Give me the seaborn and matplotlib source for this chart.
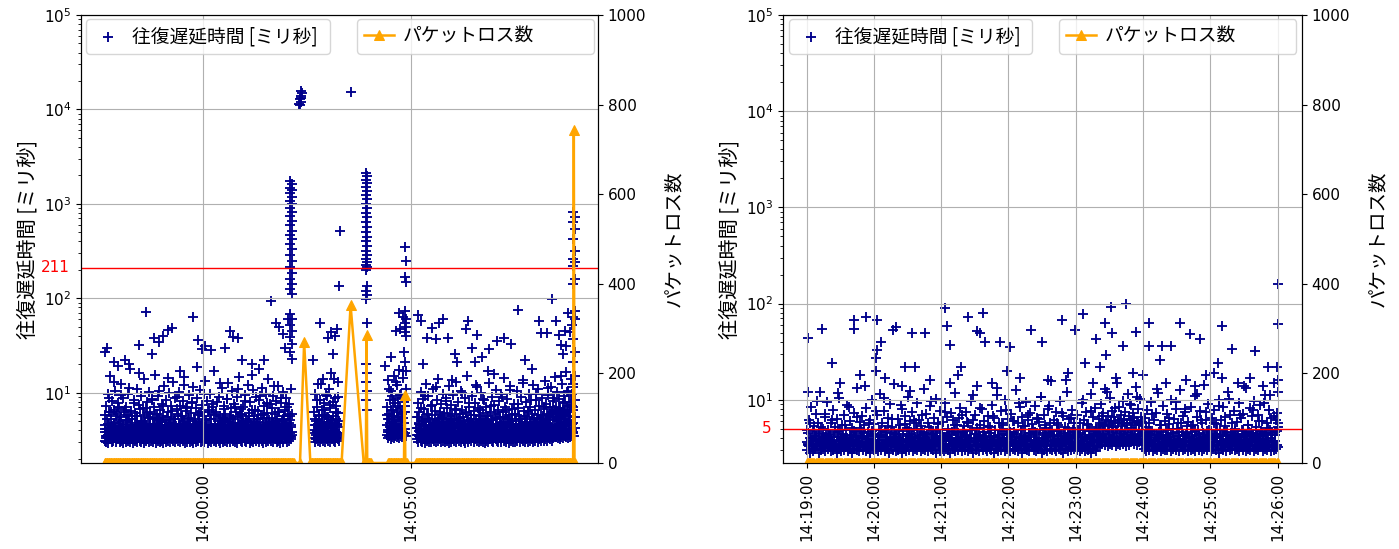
import numpy as np
import pandas as pd
import matplotlib
matplotlib.use("Agg")
import matplotlib.pyplot as plt
import matplotlib.dates as mdates
import matplotlib.transforms as mtransforms
import seaborn as sns

plt.rcParams['font.family'] = ['DejaVu Sans', 'Noto Sans CJK JP']
JP = ['Noto Sans CJK JP', 'DejaVu Sans']

RTT_LABEL = '往復遅延時間 [ミリ秒]'
LOSS_LABEL = 'パケットロス数'

# ---------------- left panel data (seconds from 13:57:38) ----------------
left_start = '2024-01-01 13:57:38'
left_band_starts = [0, 302, 407, 450]
# round-trip time, tenths of ms, first sample of each second
left_band_a = [
    38,45,33,52,41,36,88,47,34,39,62,43,35,131,48,37,56,40,33,71,
    44,36,51,39,95,42,34,47,38,66,35,43,58,37,49,34,112,41,36,53,
    46,35,40,78,33,45,39,57,36,43,162,38,50,34,41,69,37,44,35,48,
    39,61,34,42,37,54,45,36,84,40,33,47,38,59,42,35,51,36,104,43,
    37,49,34,44,73,39,36,46,41,35,55,38,142,43,36,48,34,64,40,37,
    52,35,45,38,41,91,36,47,34,43,57,39,35,49,120,37,42,36,68,44,
    34,40,53,36,46,39,79,35,42,38,50,33,45,186,37,41,60,36,48,39,
    43,35,56,38,97,41,34,46,37,63,40,35,52,39,44,36,75,42,38,47,
    36,58,41,34,45,38,128,40,36,49,35,43,67,37,51,39,34,86,42,46,
    38,44,35,54,40,37,48,34,71,43,36,41,109,38,47,35,59,39,45,36,
    50,37,42,82,35,46,39,44,36,57,41,34,48,155,38,43,36,65,40,47,
    35,52,39,44,37,93,41,35,46,38,60,42,36,49,34,77,43,39,45,37,
    41,54,36,47,117,39,43,35,50,38,62,44,37,46,34,88,40,36,53,42,
    39,45,36,70,41,37,48,35,56,43,38]
left_band_b = [40,52,37,45,84,39,47,36,58,43,125,38,49,35,66,41,44,37,95,46,
               39,55,36,48,74,42,38,51,35,140,44,40,62,37,47,89,43]
left_band_c = [45,58,38,52,110,43,66,40,49,83,37,56,44,131,47,39,72,51,42,95,
               46,60,38,54,170,48,41,63]
left_band_d = [
    42,36,55,39,47,34,68,41,37,50,35,44,92,38,46,36,58,40,34,49,
    37,43,74,39,35,48,41,36,115,45,38,52,34,42,63,37,47,39,56,36,
    44,35,49,81,40,37,46,34,59,42,38,135,45,36,51,39,43,67,35,48,
    38,54,41,36,45,99,37,43,35,50,39,61,42,36,47,34,78,44,38,52,
    36,46,39,58,43,35,122,40,48,37,44,65,38,53,36,41,85,39,45,35,
    49,42,37,57,34,46,40,72,38,44,36,51,158,41,35,47,39,62,43,37,
    55,38,45,36,90,42,35,48,39,66,37,44,53,40,36,107,46,38,50,35,
    43,39,60,36,47,41,76,37,45,34,52,40,38,126,44,36,56,42,39,48,
    35,64,41,37,46,83,38,43,36,54,40,35,49,97,42,37,58,44,39,47,
    38,52,36,45,70,40,34,48,42,37,113,45,39,55,36,61,43,38,88,46,
    40,36,53,44,38,68,47,41,150,49,43,59,46,40,79,52,45,102,48,57,
    44,66,50,93,47,72,55]
# second sample of each second (tenths of ms)
left_band_a2 = [
    58,41,72,35,96,47,63,39,150,52,44,81,37,66,48,105,42,59,36,77,
    49,68,40,123,55,38,87,46,62,34,71,51,43,98,39,57,180,45,64,41,
    53,37,84,48,61,42,110,56,39,74,45,67,36,92,50,43,138,58,40,69,
    46,79,38,55,101,44,63,35,86,52,41,70,47,155,39,60,44,93,54,37,
    65,42,76,49,57,38,118,51,45,83,36,62,48,99,41,55,72,39,130,47,
    40,88,53,44,67,37,59,102,46,73,42,56,38,81,50,145,43,64,39,71,
    54,36,94,47,61,41,78,45,115,52,39,68,44,87,37,58,49,107,42,63,
    48,74,39,57,45,134,51,40,82,46,65,38,96,53,43,70,36,59,168,44,
    62,41,79,50,38,91,47,56,42,112,54,39,73,45,60,37,85,49,127,43,
    57,45,69,38,103,52,41,76,47,63,36,89,55,44,148,40,67,48,58,42,
    71,39,95,46,53,43,120,50,61,37,80,44,66,41,106,49,57,38,90,52,
    45,64,40,84,48,58,36,113,54,43,72,39,97,46,61,42,139,51,44,75,
    41,68,49,93,38,60,45,82,53,40,119,47,63,37,77,50,44,101,56,43,
    66,40,88,48,59,42,76,51,45,110,60]
left_band_b2 = [62,45,98,50,71,43,125,56,47,84,40,66,52,140,46,77,58,42,93,55,
                48,110,44,69,51,160,47,79,57,43,88,53,72,45,131,61,50]
left_band_c2 = [70,52,135,60,83,48,105,57,92,66,150,54,78,45,120,63,88,55,175,68,
                50,96,59,142,62,80,73,110]
left_band_d2 = [
    55,42,78,48,63,39,101,52,45,86,40,67,50,125,44,59,37,92,53,46,
    72,41,58,47,110,38,64,51,43,83,49,140,45,60,39,76,54,42,97,48,
    61,44,88,40,69,53,46,118,39,74,50,57,42,95,47,65,38,131,52,45,
    79,43,59,48,103,41,66,55,37,87,46,62,40,152,51,44,71,49,58,39,
    93,47,64,42,77,53,45,114,40,68,50,56,38,99,46,61,43,84,52,41,
    70,48,57,39,128,45,63,51,42,90,47,74,40,59,54,107,44,66,38,81,
    53,46,96,41,62,49,143,43,71,55,39,85,48,58,45,119,40,67,52,44,
    76,42,60,50,104,38,69,47,57,43,91,53,46,136,41,64,49,80,45,55,
    62,39,98,48,71,44,59,52,121,46,66,41,84,54,47,109,43,73,50,58,
    45,88,56,67,49,132,53,75,60,47,95,58,70,51,116,63,55,82,66,148,
    59,71,50,102,62,54,86,68,57,124,61,77,52,93,65,58,167,72,63,105,
    80,66,140,74,98,70,125]
# third sample of each second (tenths of ms)
left_band_a3 = [
    31,35,30,38,33,29,36,32,40,34,30,37,31,35,33,42,30,36,32,39,
    34,30,37,31,35,33,29,38,32,36,30,41,33,31,35,37,30,34,32,36,
    29,35,32,38,31,34,30,36,33,43,31,35,30,37,32,34,29,36,33,31,
    37,32,35,30,39,33,31,36,34,30,38,32,35,29,37,33,31,40,34,30,
    35,31,36,33,29,38,32,34,30,37,33,31,44,35,30,36,32,34,31,38,
    33,30,37,32,35,31,39,34,30,36,32,38,31,35,33,29,37,34,30,36,
    32,38,30,35,33,31,36,29,40,34,32,37,30,35,31,38,33,36,30,34,
    36,31,34,30,38,33,35,32,29,37,31,36,34,30,42,33,35,31,37,32,
    30,35,33,38,31,36,29,34,32,39,30,35,33,31,37,34,30,36,32,35,
    34,30,37,32,35,31,38,33,30,36,34,29,37,32,41,33,31,35,30,38,
    33,36,31,34,30,39,32,35,33,29,37,31,36,34,30,38,32,35,31,37,
    35,32,30,37,33,36,31,34,29,38,32,35,30,36,33,31,40,34,32,36,
    31,37,33,30,35,32,38,34,30,36,31,35,33,29,37,32,34,30,39,33,
    36,32,35,30,38,33,31,37,34,32,36]
left_band_b3 = [33,30,36,32,38,31,35,34,30,37,32,35,31,39,33,30,36,34,32,38,
                31,35,33,30,37,32,36,34,31,35,30,38,33,36,32,34,31]
left_band_c3 = [36,33,40,35,38,32,37,34,41,36,33,39,35,38,34,42,36,33,39,37,
                35,40,34,38,36,41,37,35]
left_band_d3 = [
    32,36,30,35,33,38,31,34,30,37,32,35,29,36,33,31,38,34,30,35,
    33,30,36,32,39,31,35,33,30,37,34,31,36,32,35,30,38,33,31,36,
    30,35,32,37,31,34,29,36,33,30,38,32,35,31,37,33,30,34,32,39,
    35,31,33,36,30,38,32,35,31,34,29,37,33,30,36,32,40,34,31,35,
    33,37,30,34,32,36,31,38,33,30,35,32,37,31,34,30,36,33,29,38,
    31,35,33,30,37,32,36,34,31,39,30,35,33,37,32,31,36,30,34,38,
    36,32,30,35,33,38,31,34,30,37,33,35,32,29,36,34,31,38,33,30,
    34,30,37,32,35,31,36,33,38,30,34,32,37,31,35,33,30,36,32,39,
    30,36,33,31,38,34,32,35,30,37,33,31,36,34,30,38,32,35,33,31,
    37,33,35,31,36,32,39,34,31,37,33,35,32,38,34,31,36,33,40,35,
    34,38,36,33,40,35,32,37,34,39,36,33,38,35,41,34,37,36,33,39,
    36,34,38,35,40,37,35]
# isolated round-trip times (second, ms)
left_out_t = [0,3,13,20,30,35,50,60,68,71,79,85,91,98,109,127,135,140,145,153,
              174,181,186,193,199,213,223,230,240,248,252,258,260,265,
              267,270,267,270,267,270,267,270,267,270,267,270,267,270,267,270,
              267,270,267,270,267,270,267,270,267,270,267,270,267,270,267,270,
              267,270,
              281,282,283,283,284,285,282,284,
              301,311,322,327,332,335,330,338,340,355,
              377,379,377,379,377,379,377,379,377,379,377,379,377,379,377,379,
              377,379,377,379,377,379,377,379,377,379,377,379,377,379,377,379,
              377,379,377,379,
              404,413,420,425,426,430,432,
              433,435,433,435,433,435,433,435,433,435,433,435,
              452,456,460,465,473,478,482,489,495,505,509,522,524,530,534,538,
              545,553,555,566,577,586,597,606,616,627,630,639,645,652,655,658,
              661,664,666,669,672,675,
              676,678,676,678,676,678,676,678,676,678,676,678,676,678,676,678,
              676,678,676,678,676,678,676,678,676]
left_out_v = [27,30,21,19,22,20,32,72,26,38,34,40,46,48,17,63,36,29,31,28,
              30,45,39,38,22,20,18,22,94,55,50,42,30,60,
              1750,1620,1480,1390,1290,1180,1080,990,900,820,740,660,590,520,470,420,
              380,330,290,250,215,185,160,140,125,112,68,60,52,45,39,33,
              27,23,
              11500,12800,14000,12000,15500,14800,11200,13200,
              22,55,38,44,40,47,26,135,520,15200,
              2100,1950,1800,1650,1500,1380,1250,1120,1000,900,800,720,640,570,500,450,
              400,360,320,290,260,240,225,212,200,135,120,108,98,55,20,16,
              13,10.5,8.3,6.5,
              19,24,45,70,47,64,27,
              350,250,170,150,74,60,55,50,44,40,21,17,
              66,57,20,38,49,37,55,61,38,26,21,47,57,30,21,41,
              24,17,29,35,38,33,76,22,18,57,43,43,98,57,41,32,
              26,45,31,70,44,52,
              820,730,640,540,425,316,260,240,220,160,140,73,64,60,37,27,
              21,15,11.6,8.4,6.5,5.5,4.8,4.2,3.8]
# packet loss count (seconds where it is 0, and the spikes)
left_loss_zero_spans = [(0, 273), (282, 282), (297, 342), (374, 384),
                        (409, 436), (450, 676), (678, 678)]
left_loss_spike_t = [288, 355, 378, 433, 677]
left_loss_spike_v = [270, 352, 286, 152, 743]
left_threshold = 211

# ---------------- right panel data (seconds from 14:19:00) ----------------
right_start = '2024-01-01 14:19:00'
right_band_starts = [0]
right_band = [
    36,45,33,58,40,35,47,31,42,96,37,44,34,52,39,33,71,41,36,48,
    34,43,38,62,35,46,32,41,118,37,49,34,44,39,55,33,40,36,84,42,
    38,31,47,35,43,66,37,34,51,40,32,45,139,36,42,39,58,34,47,35,
    44,37,76,33,41,36,49,32,43,104,38,46,35,53,40,34,63,37,45,33,
    41,35,48,38,88,34,44,31,56,39,36,47,124,35,42,37,61,33,50,40,
    36,43,34,69,39,45,32,41,37,52,35,97,44,38,33,47,40,57,36,42,
    33,48,38,74,35,43,31,40,150,37,46,34,54,39,36,45,65,33,41,38,
    47,35,42,59,37,33,49,40,112,36,44,34,51,38,43,82,35,39,46,32,
    40,37,53,34,45,38,67,36,42,33,131,41,48,35,57,39,44,36,79,43,
    35,46,38,41,33,60,37,44,34,92,40,48,36,53,39,42,31,70,45,37,
    43,34,50,38,46,35,63,40,33,107,37,45,36,55,41,38,86,44,34,49,
    37,42,35,58,39,47,33,44,73,36,40,162,38,51,35,43,65,37,46,34,
    41,36,49,34,45,38,99,35,43,39,56,33,47,40,76,36,44,37,52,38,
    45,50,42,68,47,41,55,44,120,49,43,60,46,52,40,83,48,45,58,42,
    47,53,44,62,49,41,57,46,90,51,43,66,48,44,54,108,47,42,59,45,
    39,44,36,52,41,35,47,38,71,34,43,37,128,40,46,33,55,39,42,36,
    48,35,41,64,38,44,33,50,37,95,42,36,46,39,58,34,43,81,37,45,
    34,40,37,53,42,35,47,33,116,39,44,36,61,38,41,35,74,43,36,49,
    38,45,33,57,40,36,48,34,87,42,37,44,35,66,39,46,33,102,41,37,
    43,36,50,38,44,34,69,40,35,47,140,37,42,33,54,39,45,36,78,41,
    36,48,39,60,42,35,46,38,93,44,37,51,34,113,40,45,36,68,43,47,
    52]
right_band2 = [
    48,35,62,40,84,37,53,42,71,33,58,45,120,39,50,36,66,43,95,38,
    44,57,36,78,41,52,34,63,47,105,39,55,42,69,37,48,88,35,60,43,
    51,38,73,45,40,132,36,59,47,67,41,54,33,82,46,39,61,44,99,37,
    56,42,70,38,49,115,43,58,35,76,48,41,64,37,90,45,52,39,145,44,
    40,63,47,55,36,81,42,68,38,51,108,44,60,35,74,49,41,57,93,39,
    62,37,53,46,128,40,71,43,58,36,86,48,45,65,39,102,42,56,34,77,
    45,59,41,92,38,66,50,44,72,35,61,47,118,40,54,43,83,37,69,46,
    53,40,75,43,57,36,97,48,62,39,70,44,138,41,55,38,80,46,60,42,
    37,68,45,52,41,89,38,64,49,111,43,58,36,76,47,54,40,99,44,63,
    50,43,71,39,60,46,125,41,57,37,84,48,66,42,53,94,38,62,45,73,
    41,56,38,87,44,64,36,59,48,106,40,70,43,51,37,80,46,58,155,42,
    61,39,74,47,55,42,98,38,67,45,52,41,121,44,63,36,78,49,57,40,
    46,69,43,58,37,92,48,61,41,75,39,54,47,114,42,66,38,83,50,44,
    63,55,90,58,72,53,130,61,68,56,104,59,77,52,66,60,148,57,85,62,
    70,58,96,63,75,55,116,67,61,88,57,72,64,135,60,80,56,101,66,59,
    48,64,42,79,45,57,40,95,47,62,38,73,44,118,41,55,46,86,39,60,
    43,71,48,56,40,99,45,63,37,81,50,58,42,127,46,67,39,74,44,53,
    59,41,85,46,54,38,109,43,66,48,77,40,57,45,142,39,62,47,91,42,
    47,65,39,78,44,56,41,100,49,61,36,84,46,53,43,119,38,70,45,58,
    40,76,47,59,42,93,38,64,48,71,44,133,41,55,46,82,39,67,43,97,
    52,44,69,40,88,47,60,42,112,45,57,39,79,48,65,43,150,46,62,73,
    58]
right_band3 = [
    30,34,28,37,32,29,35,31,39,33,28,36,30,34,32,41,29,35,31,38,
    33,29,36,30,34,32,28,37,31,35,29,40,32,30,34,36,29,33,31,35,
    28,34,31,37,30,33,29,35,32,42,30,34,29,36,31,33,28,35,32,30,
    36,31,34,29,38,32,30,35,33,29,37,31,34,28,36,32,30,39,33,29,
    34,30,35,32,28,37,31,33,29,36,32,30,41,34,29,35,31,33,30,37,
    32,29,36,31,34,30,38,33,29,35,31,37,30,34,32,28,36,33,29,35,
    31,37,29,34,32,30,35,28,39,33,31,36,29,34,30,37,32,35,29,33,
    35,30,33,29,37,32,34,31,28,36,30,35,33,29,40,32,34,30,36,31,
    29,34,32,37,30,35,28,33,31,38,29,34,32,30,36,33,29,35,31,34,
    33,29,36,31,34,30,37,32,29,35,33,28,36,31,39,32,30,34,29,37,
    32,35,30,33,29,38,31,34,32,28,36,30,35,33,29,37,31,34,30,36,
    34,31,29,36,32,35,30,33,28,37,31,34,29,35,32,30,39,33,31,35,
    30,36,32,29,34,31,37,33,29,35,30,34,32,28,36,31,33,29,38,32,
    36,33,38,35,40,34,37,36,33,39,35,38,34,41,36,33,38,35,37,34,
    38,35,40,36,33,39,37,34,41,36,38,35,40,37,34,39,36,38,35,42,
    31,35,29,34,32,30,36,33,29,35,31,37,30,34,32,29,36,31,33,30,
    34,30,36,32,29,35,31,38,33,30,34,29,36,32,35,30,33,31,37,29,
    32,36,30,34,31,37,29,33,35,30,32,36,29,34,31,38,30,33,32,35,
    29,33,31,36,30,34,32,28,37,31,35,30,33,29,36,32,34,30,35,31,
    33,30,35,31,37,29,34,32,30,36,33,29,35,31,34,30,38,32,29,36,
    31,34,30,37,32,35,29,33,31,36,30,34,32,29,35,33,30,37,31,34,
    32]
right_out_t = [1,1,14,23,42,42,53,63,63,62,66,62,77,80,94,106,88,97,123,125,
               128,138,144,157,155,152,159,172,181,179,200,210,228,239,246,248,
               258,266,271,285,272,262,267,282,294,291,305,305,317,325,315,333,
               342,351,370,379,367,400,411,363,370,346,
               30,48,70,85,110,135,165,190,215,233,255,276,300,320,338,356,385,
               395,407,
               420,420,419,420,420]
right_out_v = [44,12,55,24,55,68,73,68,33,27,40,20,53,57,50,50,22,22,89,59,
               37,22,73,79,50,52,40,40,35,20,53,40,68,53,77,24,
               43,63,93,100,50,22,29,36,51,19,63,36,36,36,26,63,
               48,43,58,34,24,32,22,19,17,14,
               15,18,17,14,16,18,15,17,16,19,15,17,18,15,16,18,15,
               17,14,
               160,62,22,16,12]
right_loss_zero_spans = [(0, 420)]
right_loss_spike_t = []
right_loss_spike_v = []
right_threshold = 5


def draw_panel(fig, rect, start, band_starts, band_sets, out_t, out_v,
               zero_spans, spike_t, spike_v, threshold, ylow, locator,
               leg1, leg2):
    t0 = pd.Timestamp(start)
    bt, bv = [], []
    for k, bands in enumerate(band_sets):
        offset = k / len(band_sets)
        for s, vals in zip(band_starts, bands):
            bt.extend(s + i + offset for i in range(len(vals)))
            bv.extend(v / 10.0 for v in vals)
    rt = np.array(bt + list(out_t), dtype=float)
    rv = np.array(bv + list(out_v), dtype=float)
    rtimes = t0 + pd.to_timedelta(rt, unit='s')

    loss = {}
    for a, b in zero_spans:
        for t in range(a, b + 1):
            loss[t] = 0
    for t, v in zip(spike_t, spike_v):
        loss[t] = v
    lt = np.array(sorted(loss), dtype=float)
    lv = np.array([loss[int(t)] for t in lt], dtype=float)
    ltimes = t0 + pd.to_timedelta(lt, unit='s')

    ax = fig.add_axes(rect)
    sns.scatterplot(x=rtimes, y=rv, marker='+', color='darkblue', s=55,
                    linewidth=1.35, ax=ax, label=RTT_LABEL, legend=False)
    ax.set_yscale('log')
    ax.set_ylim(ylow, 1e5)
    ax.axhline(threshold, color='red', linewidth=1.0)
    trans = mtransforms.blended_transform_factory(ax.transAxes, ax.transData)
    ax.text(-0.022, threshold, str(threshold), transform=trans, ha='right',
            va='center', color='red', fontsize=11)
    ax.grid(True, which='major', color='#b0b0b0', linewidth=0.8)
    ax.set_ylabel(RTT_LABEL, fontsize=14.5, family=JP)
    ax.set_xlabel('')
    ax.tick_params(labelsize=11)

    ax2 = ax.twinx()
    sns.lineplot(x=ltimes, y=lv, ax=ax2, color='orange', marker='^',
                 markersize=7.5, markeredgecolor='orange', markeredgewidth=0.75,
                 linewidth=1.8, label=LOSS_LABEL, legend=False,
                 estimator=None, sort=False)
    ax2.set_ylim(0, 1000)
    ax2.set_yticks(range(0, 1001, 200))
    ax2.set_ylabel(LOSS_LABEL, fontsize=14, family=JP, labelpad=12)
    ax2.set_xlabel('')
    ax2.tick_params(labelsize=11)

    ax.xaxis.set_major_locator(locator)
    ax.xaxis.set_major_formatter(mdates.DateFormatter('%H:%M:%S'))
    for lab in ax.get_xticklabels():
        lab.set_rotation(90)

    prop = {'family': JP, 'size': 13.5}
    common = dict(loc='upper left', mode='expand', borderaxespad=0, prop=prop,
                  borderpad=0.35, handlelength=1.6, handletextpad=0.5)
    ax.legend(bbox_to_anchor=(leg1[0], 0, leg1[1], 0.99), **common)
    ax2.legend(bbox_to_anchor=(leg2[0], 0, leg2[1], 0.99), **common)
    return ax, ax2


fig = plt.figure(figsize=(13.99, 5.49), dpi=100)
draw_panel(fig, [81 / 1399, 86 / 549, 517 / 1399, 448 / 549], left_start,
           left_band_starts,
           [[left_band_a, left_band_b, left_band_c, left_band_d],
            [left_band_a2, left_band_b2, left_band_c2, left_band_d2],
            [left_band_a3, left_band_b3, left_band_c3, left_band_d3]],
           left_out_t, left_out_v, left_loss_zero_spans, left_loss_spike_t,
           left_loss_spike_v, left_threshold, 1.8,
           mdates.MinuteLocator(byminute=range(0, 60, 5)),
           (0.0097, 0.472), (0.534, 0.458))
draw_panel(fig, [783 / 1399, 86 / 549, 519 / 1399, 448 / 549], right_start,
           right_band_starts, [[right_band], [right_band2], [right_band3]],
           right_out_t, right_out_v,
           right_loss_zero_spans, right_loss_spike_t, right_loss_spike_v,
           right_threshold, 2.2, mdates.MinuteLocator(),
           (0.0116, 0.468), (0.532, 0.457))
fig.savefig('out.png', dpi=100)
